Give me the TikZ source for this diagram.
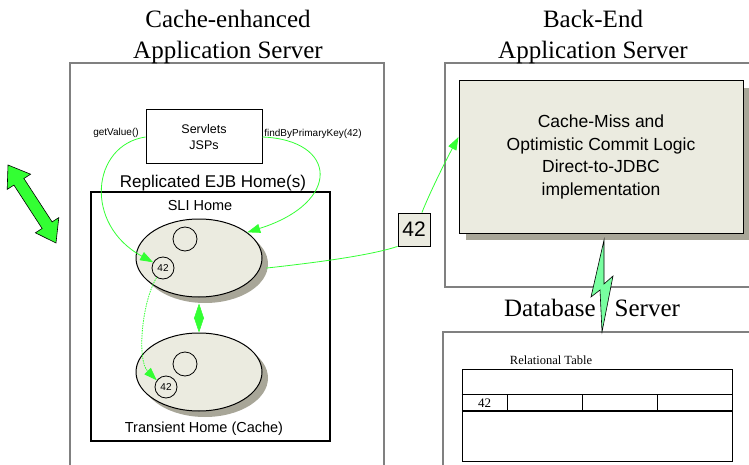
\documentclass[tikz,border=0pt]{standalone}
\usepackage{fontspec}
\setmainfont{Liberation Serif}
\setsansfont{Liberation Sans}
\usetikzlibrary{arrows.meta,shapes.geometric,shadows}
\definecolor{gline}{RGB}{51,255,51}
\definecolor{bolt}{RGB}{120,255,160}
\definecolor{beige}{RGB}{235,235,224}
\definecolor{shade}{RGB}{168,166,152}
\definecolor{frame}{RGB}{128,128,128}

\begin{document}
\begin{tikzpicture}[x=1pt, y=-1pt, >={Triangle[length=13pt,width=9pt]},
  ttl/.style={font=\fontsize{25}{31}\selectfont, align=center, anchor=base, inner sep=0pt},
  lbl/.style={font=\sffamily\fontsize{#1}{#1}\selectfont, anchor=base, inner sep=0pt},
  srvbox/.style={draw=frame, line width=1.3pt, inner sep=0pt},
  home/.style={ellipse, draw, line width=1pt, fill=beige, minimum width=126pt,
    minimum height=78pt, inner sep=0pt,
    drop shadow={shadow xshift=6pt, shadow yshift=-6pt, fill=shade, opacity=1}},
  ring/.style={circle, draw, line width=0.8pt, minimum size=22pt, inner sep=0pt,
    font=\sffamily\fontsize{10}{10}\selectfont},
  e/.style={->, draw=gline, line width=0.8pt}]
\useasboundingbox (0,0) rectangle (749,465);
\clip (0,0) rectangle (749,465);

% server frames and titles
\node[srvbox, minimum width=314pt, minimum height=420pt] (cas) at (227,273) {};
\node[srvbox, minimum width=320pt, minimum height=224pt] (bas) at (605,175) {};
\node[srvbox, minimum width=320pt, minimum height=150pt] (dbs) at (603,407) {};
\node[ttl] (t1) at (228,59) {Cache-enhanced\\Application Server};
\node[ttl] (t2) at (593,59) {Back-End\\Application Server};
\node[ttl] (t3) at (592,316) {Database\hspace{19pt}Server};

% cache-enhanced side
\node[draw, line width=1pt, minimum width=116pt, minimum height=54pt, align=center,
  font=\sffamily\fontsize{12.5}{16}\selectfont] (srv) at (204,137) {Servlets\\JSPs};
\node[lbl=10] (gv) at (116,136) {getValue()};
\node[lbl=10] (fk) at (313,137) {findByPrimaryKey(42)};
\node[lbl=17] (rep) at (213,188) {Replicated EJB Home(s)};
\node[draw, line width=1.3pt, minimum width=239pt, minimum height=249pt] (ejb) at (210.5,316.5) {};
\node[lbl=14.5] (slil) at (200,211) {SLI Home};
\node[home] (sli) at (199,258) {};
\node[home] (tr) at (199,372) {};
\node[ring, minimum size=24pt] (c1) at (185,239) {};
\node[ring] (k1) at (163,268) {42};
\node[ring, minimum size=24pt] (c2) at (185,364) {};
\node[ring] (k2) at (166,387) {42};
\node[lbl=14.5] (trl) at (204,432) {Transient Home (Cache)};

% back-end side
\node[draw, line width=1pt, fill=beige, minimum width=284pt, minimum height=152pt, align=center,
  font=\sffamily\fontsize{17.5}{22.7}\selectfont,
  drop shadow={shadow xshift=7pt, shadow yshift=-7pt, fill=shade, opacity=1}] (logic) at (601,157)
  {Cache-Miss and\\Optimistic Commit Logic\\Direct-to-JDBC\\implementation};
\node[draw, line width=0.8pt, fill=beige, minimum width=32pt, minimum height=33pt, inner sep=0pt,
  font=\sffamily\fontsize{21}{21}\selectfont] (num) at (414,229.5) {42};

% database
\node[font=\fontsize{12.5}{12.5}\selectfont, anchor=base, inner sep=0pt] (rt) at (551,364) {Relational Table};
\node[draw, line width=0.8pt, minimum width=270pt, minimum height=92pt, inner sep=0pt] (tbl) at (597,415) {};
\draw[line width=0.8pt] (tbl.west |- 0,394) -- (tbl.east |- 0,394);
\draw[line width=1.3pt] (tbl.west |- 0,411) -- (tbl.east |- 0,411);
\foreach \x in {507,582,657} \draw[line width=0.8pt] (\x,394) -- (\x,411);
\node[font=\fontsize{13}{13}\selectfont] (v42) at (484.5,403) {42};

% lightning and client arrow
\draw[fill=bolt, line width=0.6pt] (604,240) -- (591,297) -- (600,290) -- (602,332)
  -- (613,276) -- (604,284) -- cycle;
\draw[fill=gline, line width=0.6pt] (8,165) -- (30.6,174.2) -- (23.9,178.5) -- (52.1,221.9)
  -- (58.8,217.6) -- (56,243) -- (35.4,232.8) -- (42.1,228.5) -- (13.9,185.1) -- (7.2,189.4) -- cycle;

% connectors
\draw[e] (srv.west) .. controls +(-54,8) and +(-70,-38) .. (k1.150);
\draw[e] (srv.east) .. controls +(75,3) and +(95,-30) .. (sli.28);
\draw[e, -, shorten <=6pt] (sli.-10) .. controls +(45,-5) and +(-30,10) .. (num.south west);
\draw[e] (num.65) .. controls +(8,-20) and +(-14,26) .. (logic.172);
\draw[e, dash pattern=on 1.5pt off 1pt] (k1.236) .. controls +(-15,25) and +(-20,-20) .. (k2.144);
\draw[draw=gline, line width=0.5pt, fill=gline, {Triangle[length=15pt,width=10pt]}-{Triangle[length=15pt,width=10pt]}]
  ([yshift=-6pt]sli.south) -- (tr.north);
\end{tikzpicture}
\end{document}
